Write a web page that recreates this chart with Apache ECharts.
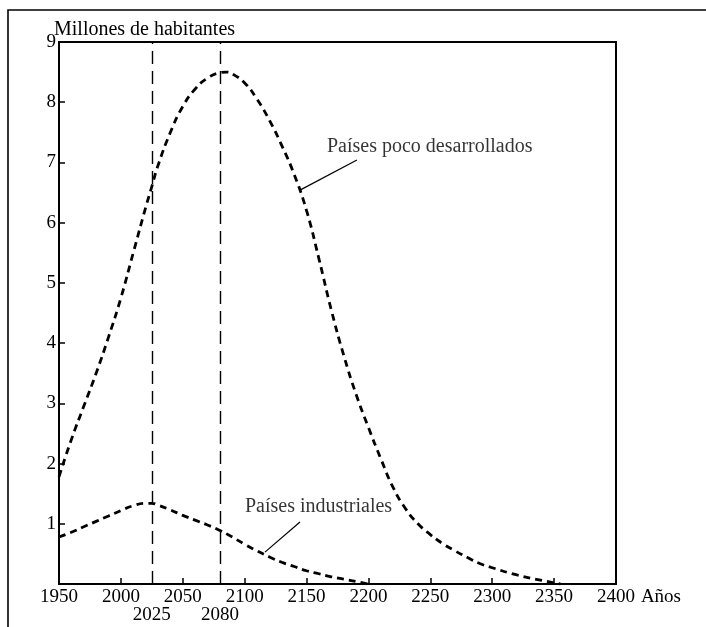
<!DOCTYPE html>
<html>
<head>
<meta charset="utf-8">
<title>Millones de habitantes</title>
<script src="https://cdn.jsdelivr.net/npm/echarts@6/dist/echarts.min.js"></script>
<style>
  html, body { margin: 0; padding: 0; background: #fff; }
  #chart { width: 706px; height: 627px; }
</style>
</head>
<body>
<div id="chart"></div>
<script>
// datos
var yearsPoco = [1950, 1960, 1970, 1980, 1990, 2000, 2010, 2020, 2025, 2030, 2040, 2050, 2060, 2070, 2080, 2085, 2090, 2100, 2110, 2120, 2130, 2140, 2150, 2160, 2170, 2180, 2190, 2200, 2210, 2220, 2230, 2240, 2250, 2260, 2270, 2280, 2290, 2300, 2320, 2340, 2355];
var popPoco = [1.78, 2.4, 2.95, 3.5, 4.1, 4.75, 5.5, 6.25, 6.6, 6.95, 7.5, 7.93, 8.22, 8.4, 8.49, 8.5, 8.47, 8.32, 8.05, 7.7, 7.28, 6.8, 6.2, 5.4, 4.55, 3.8, 3.15, 2.6, 2.08, 1.6, 1.25, 1.0, 0.82, 0.67, 0.55, 0.44, 0.34, 0.27, 0.15, 0.06, 0.0];

var yearsInd = [1950, 1960, 1970, 1980, 1990, 2000, 2010, 2020, 2025, 2030, 2040, 2050, 2060, 2070, 2080, 2090, 2100, 2110, 2120, 2130, 2140, 2150, 2160, 2170, 2180, 2190, 2200];
var popInd = [0.78, 0.86, 0.95, 1.04, 1.13, 1.22, 1.3, 1.34, 1.34, 1.31, 1.23, 1.14, 1.06, 0.98, 0.89, 0.78, 0.66, 0.55, 0.45, 0.36, 0.29, 0.22, 0.17, 0.12, 0.08, 0.04, 0.0];

var refYears = [2025, 2080];   // lineas verticales
var labelNames = ['Países poco desarrollados', 'Países industriales'];

function pares(xs, ys) {
  var out = [];
  for (var i = 0; i < xs.length; i++) out.push([xs[i], ys[i]]);
  return out;
}

var fuente = 'Liberation Serif';

var option = {
  backgroundColor: '#fff',
  animation: false,
  title: {
    text: 'Millones de habitantes',
    left: 49, top: 15,
    textStyle: { fontFamily: fuente, fontSize: 20, fontWeight: 'normal', color: '#000' }
  },
  grid: {
    left: 59, right: 90, top: 42, bottom: 43,
    show: true, borderColor: '#000', borderWidth: 2
  },
  xAxis: {
    type: 'value',
    min: 1950, max: 2400, interval: 50,
    name: 'Años',
    nameLocation: 'end',
    nameGap: 17,
    nameTextStyle: { fontFamily: fuente, fontSize: 19, color: '#000', verticalAlign: 'top', padding: [4, 0, 0, 0] },
    axisLine: { lineStyle: { color: '#000', width: 2 } },
    axisTick: { inside: true, length: 6, lineStyle: { color: '#000', width: 1.5 } },
    axisLabel: {
      fontFamily: fuente, fontSize: 19, color: '#000', margin: 4,
      formatter: function (v) { return String(v); }
    },
    splitLine: { show: false }
  },
  yAxis: {
    type: 'value',
    min: 0, max: 9, interval: 1,
    axisLine: { show: true, lineStyle: { color: '#000', width: 2 } },
    axisTick: { show: true, inside: true, length: 6, lineStyle: { color: '#000', width: 1.5 } },
    axisLabel: {
      fontFamily: fuente, fontSize: 19, color: '#000', margin: 3,
      formatter: function (v) { return v === 0 ? '' : v; }
    },
    splitLine: { show: false }
  },
  series: [
    {
      name: labelNames[0],
      type: 'line',
      data: pares(yearsPoco, popPoco),
      smooth: 0.5,
      symbol: 'none',
      lineStyle: { color: '#000', width: 2.8, type: [7, 5] },
      markLine: {
        silent: true,
        symbol: 'none',
        lineStyle: { color: '#000', width: 1.4, type: [13, 7] },
        label: {
          show: true, position: 'start', distance: 22,
          fontFamily: fuente, fontSize: 19, color: '#000',
          formatter: function (p) { return p.value; }
        },
        data: refYears.map(function (y) { return { xAxis: y }; })
      }
    },
    {
      name: labelNames[1],
      type: 'line',
      data: pares(yearsInd, popInd),
      smooth: 0.5,
      symbol: 'none',
      lineStyle: { color: '#000', width: 2.8, type: [7, 5] }
    },
    {
      // flechas de las etiquetas
      type: 'line',
      data: [],
      markLine: {
        silent: true,
        symbol: 'none',
        lineStyle: { color: '#000', width: 1.2, type: 'solid' },
        label: { show: false },
        data: [
          [{ coord: [2144.7, 6.54] }, { coord: [2190.7, 7.04] }],
          [{ coord: [2116.4, 0.53] }, { coord: [2144.7, 1.03] }]
        ]
      }
    },
    {
      // textos de las etiquetas
      type: 'scatter',
      symbolSize: 0,
      silent: true,
      data: [
        { name: labelNames[0], value: [2166.5, 7.26] },
        { name: labelNames[1], value: [2100.2, 1.28] }
      ],
      label: {
        show: true, position: 'right', distance: 0,
        fontFamily: fuente, fontSize: 20, color: '#000',
        formatter: function (p) { return p.name; }
      }
    }
  ],
  graphic: [
    {
      type: 'polyline',
      shape: { points: [[8, 627], [8, 10], [706, 10]] },
      style: { stroke: '#000', lineWidth: 1.6, fill: null }
    }
  ]
};

var chart = echarts.init(document.getElementById('chart'));
chart.setOption(option);
</script>
</body>
</html>
